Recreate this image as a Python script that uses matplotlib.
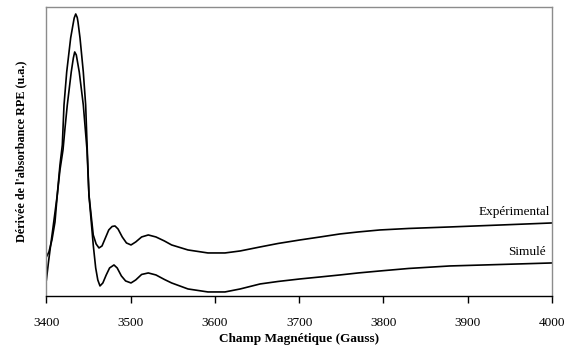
import matplotlib
matplotlib.use("Agg")
import matplotlib.pyplot as plt

plt.rcParams['font.family'] = ['Liberation Serif', 'DejaVu Serif']

# champ magnetique (G) et derivee (u.a.)
champ_exp = [3400, 3403, 3406.6, 3410.2, 3412.9, 3416.1, 3418.9, 3420.9, 3424.1,
             3428.8, 3431.5, 3433, 3434.8, 3436.6, 3437.5, 3439.9, 3443.8, 3446.6,
             3448.5, 3450.5, 3455.6, 3459, 3462.4, 3466, 3470, 3474, 3478, 3481.4,
             3485, 3490, 3495, 3500.4, 3506, 3513, 3520.9, 3530, 3540, 3548.6, 3568,
             3591.7, 3611.9, 3630, 3653.6, 3675, 3700.9, 3725, 3748.3, 3770,
             3795.8, 3830, 3878.8, 3940, 4000]
signal_exp = [39, 44, 56, 74, 101, 131, 151, 191, 224,
              258, 271, 278, 282, 278.5, 274, 258, 224, 191,
              146, 101, 61, 52, 48, 50, 58, 66, 69.5, 70,
              67, 59, 53, 51, 54, 59, 61, 59, 55, 51, 46,
              43, 43, 45, 49, 52.5, 56, 59, 62, 64,
              66, 67.5, 69, 71, 73]

champ_sim = [3400, 3402.5, 3405.1, 3407.8, 3412.9, 3416.1, 3419.7, 3422.1, 3424.8,
             3429.5, 3432, 3433.6, 3435.5, 3439, 3443.8, 3448.2, 3450.5, 3455.6,
             3458.5, 3461, 3463.6, 3467, 3471, 3475, 3480.2, 3484, 3489, 3494,
             3500.4, 3506, 3513, 3520.9, 3530, 3540, 3548.6, 3568, 3591.7,
             3611.9, 3630, 3653.6, 3675, 3700.9, 3725, 3748.3, 3770, 3795.8,
             3830, 3878.8, 3940, 4000]
signal_sim = [16, 34, 51, 68, 101, 126, 146, 168, 191,
              224, 238, 244, 241, 224, 191, 146, 101, 51,
              28, 16, 10, 13, 21, 28, 31, 28, 20, 15,
              13, 16, 21.5, 23, 21, 16.5, 13, 7, 4,
              4, 7, 12, 14.5, 17, 19, 21, 23, 25,
              27.5, 30, 31.5, 33]

graduations = [3400, 3500, 3600, 3700, 3800, 3900, 4000]

fig = plt.figure(figsize=(5.72, 3.49), dpi=100)
ax = fig.add_axes([0.0811, 0.152, 0.884, 0.828])

ax.plot(champ_exp, signal_exp, color='black', lw=1.2)
ax.plot(champ_sim, signal_sim, color='black', lw=1.2)

ax.text(3998, 84, 'Expérimental', ha='right', va='center', fontsize=9.5)
ax.text(3992, 44, 'Simulé', ha='right', va='center', fontsize=9.5)

ax.set_xlim(3400, 4000)
ax.set_ylim(0, 289)
ax.set_xticks(graduations)
ax.set_xticklabels([str(g) for g in graduations], fontsize=9.5)
ax.set_yticks([])
ax.tick_params(axis='x', direction='out', length=5, width=1, pad=10)

for cote in ['top', 'right', 'left']:
    ax.spines[cote].set_color('#8c8c8c')
    ax.spines[cote].set_linewidth(1)
ax.spines['bottom'].set_color('black')
ax.spines['bottom'].set_linewidth(1)

ax.set_xlabel('Champ Magnétique (Gauss)', fontsize=9.5, fontweight='bold', labelpad=3)
ax.set_ylabel("Dérivée de l'absorbance RPE (u.a.)", fontsize=8.7, fontweight='bold', labelpad=14)

fig.savefig('out.png', dpi=100)
